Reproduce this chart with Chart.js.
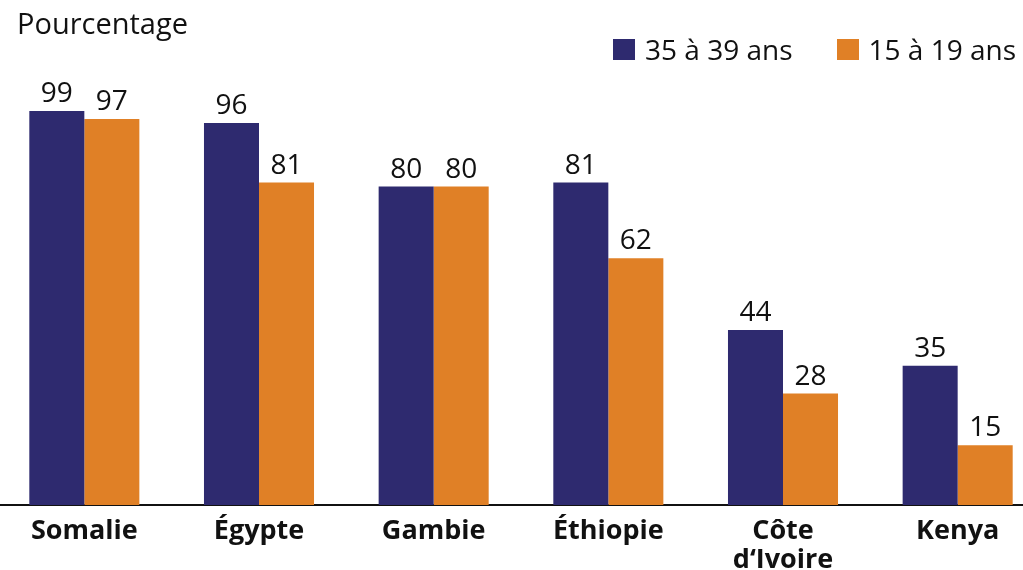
<!DOCTYPE html>
<html lang="fr">
<head>
<meta charset="utf-8">
<title>Pourcentage par pays</title>
<script src="https://cdn.jsdelivr.net/npm/chart.js@4"></script>
<style>
  html, body { margin: 0; padding: 0; background: #fff; overflow: hidden; }
  #wrap { position: relative; width: 1023px; height: 570px; overflow: hidden; font-family: "Open Sans", sans-serif; }
  /* canvas is a bit wider than the page so the category bands line up with the original */
  #chart-canvas { position: absolute; left: -3px; top: 0; }
  #y-title { position: absolute; left: 17px; top: 3px; font-size: 29px; color: #111; }
  #legend { position: absolute; top: 30px; right: 7px; display: flex; gap: 44px; font-size: 28px; color: #111; }
  #legend .item { display: flex; align-items: center; gap: 10px; }
  #legend .box { width: 22px; height: 21px; }
</style>
</head>
<body>
<div id="wrap">
  <canvas id="chart-canvas" width="1048" height="570"></canvas>
  <div id="y-title">Pourcentage</div>
  <div id="legend"></div>
</div>
<script>
const countries = ['Somalie', 'Égypte', 'Gambie', 'Éthiopie', ['Côte', 'd\u2018Ivoire'], 'Kenya'];
const age35to39 = [99, 96, 80, 81, 44, 35];
const age15to19 = [97, 81, 80, 62, 28, 15];
const seriesNames = ['35 à 39 ans', '15 à 19 ans'];

const BLUE = '#2e2a6f';
const ORANGE = '#e08026';

// draws the value above each bar
const valueLabels = {
  id: 'valueLabels',
  afterDatasetsDraw(chart) {
    const ctx = chart.ctx;
    ctx.save();
    ctx.font = '28px "Open Sans", sans-serif';
    ctx.fillStyle = '#111';
    ctx.textAlign = 'center';
    ctx.textBaseline = 'alphabetic';
    chart.data.datasets.forEach((ds, i) => {
      chart.getDatasetMeta(i).data.forEach((bar, j) => {
        ctx.fillText(ds.data[j], bar.x, bar.y - 9);
      });
    });
    ctx.restore();
  },
};

function createChart() {
  const canvas = document.getElementById('chart-canvas');

  const chart = new Chart(canvas, {
    type: 'bar',
    data: {
      labels: countries,
      datasets: [
        { label: seriesNames[0], data: age35to39, backgroundColor: BLUE },
        { label: seriesNames[1], data: age15to19, backgroundColor: ORANGE },
      ],
    },
    options: {
      responsive: false,
      animation: false,
      layout: { padding: { top: 107, left: 0, right: 0, bottom: 0 } },
      datasets: {
        bar: { categoryPercentage: 0.63, barPercentage: 1.0, borderWidth: 0 },
      },
      plugins: {
        legend: { display: false },
        tooltip: { enabled: false },
      },
      scales: {
        x: {
          grid: { display: false },
          border: { display: true, color: '#111', width: 2 },
          ticks: {
            color: '#111',
            padding: 4,
            maxRotation: 0,
            autoSkip: false,
            font: { family: '"Open Sans", sans-serif', size: 27, weight: 'bold', lineHeight: 1.08 },
          },
          afterFit(scale) { scale.height = 65; },
        },
        y: {
          display: false,
          min: 0,
          max: 100,
        },
      },
    },
    plugins: [valueLabels],
  });

  const legend = document.getElementById('legend');
  chart.data.datasets.forEach((ds) => {
    const item = document.createElement('div');
    item.className = 'item';
    const box = document.createElement('span');
    box.className = 'box';
    box.style.background = ds.backgroundColor;
    const text = document.createElement('span');
    text.textContent = ds.label;
    item.appendChild(box);
    item.appendChild(text);
    legend.appendChild(item);
  });
}

document.addEventListener('DOMContentLoaded', createChart);
</script>
</body>
</html>
